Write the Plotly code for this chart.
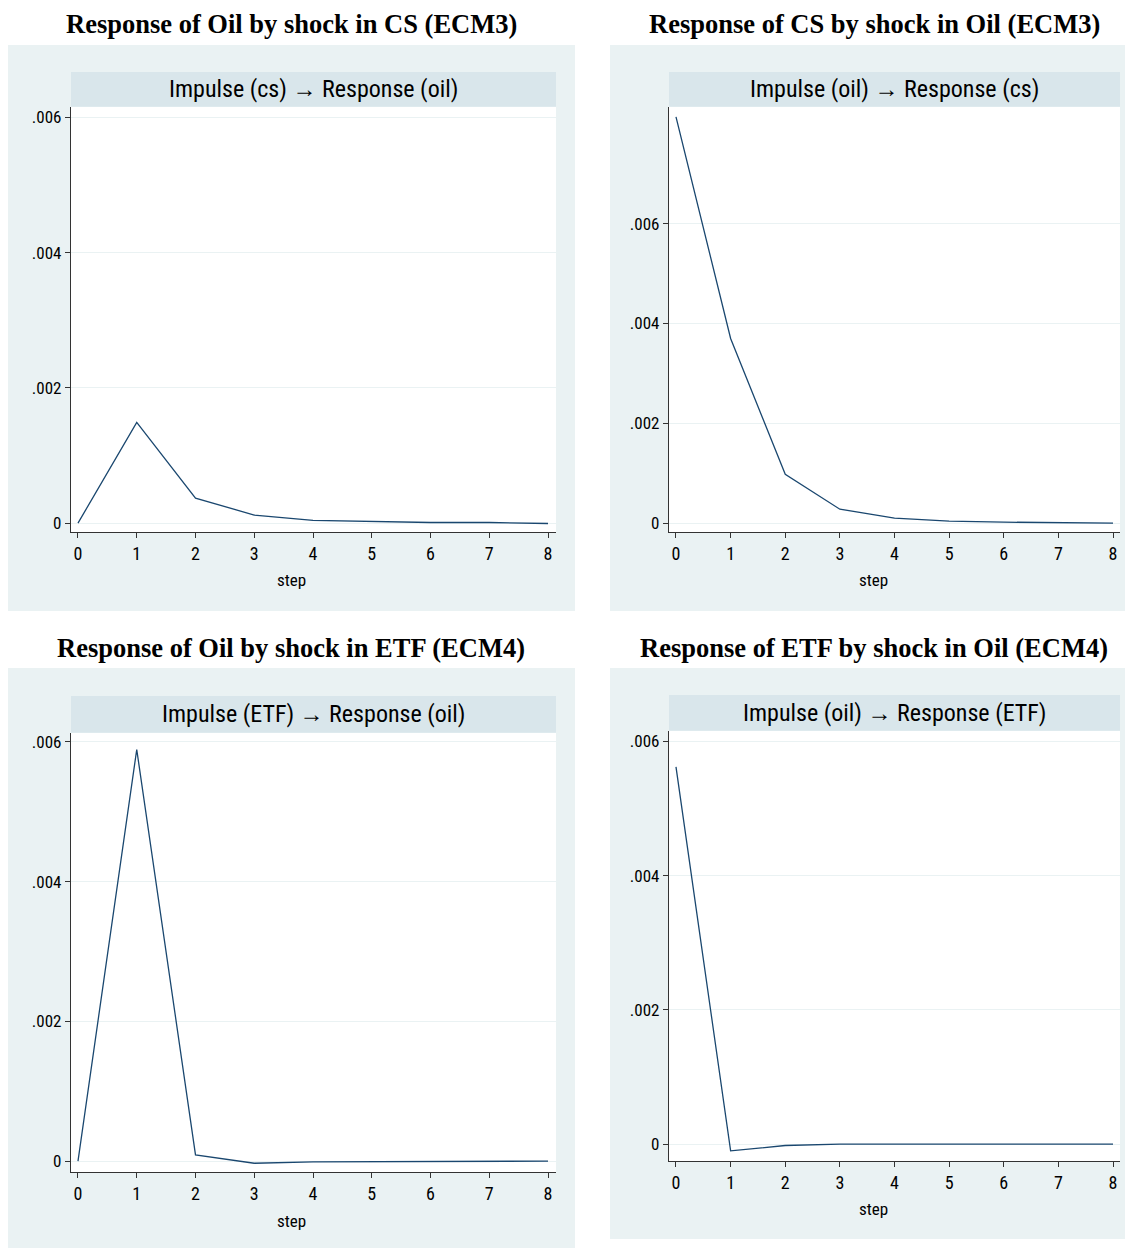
import plotly.graph_objects as go

W, H = 1125, 1249

steps = [0, 1, 2, 3, 4, 5, 6, 7, 8]
oil_by_cs = [0.0, 0.00149, 0.00037, 0.00012, 0.00004, 0.00002, 0.00001, 0.00001, -0.000005]
cs_by_oil = [0.00814, 0.0037, 0.00098, 0.00028, 0.0001, 0.00004, 0.00002, 0.00001, 0.0]
oil_by_etf = [0.0, 0.00589, 0.00009, -0.00003, -0.00001, -0.00001, 0.0, 0.0, 0.0]
etf_by_oil = [0.00562, -0.0001, -0.00002, 0.0, 0.0, 0.0, 0.0, 0.0, 0.0]

titles = ["Response of Oil by shock in CS (ECM3)", "Response of CS by shock in Oil (ECM3)",
          "Response of Oil by shock in ETF (ECM4)", "Response of ETF by shock in Oil (ECM4)"]
strips = ["Impulse (cs) \u2192 Response (oil)", "Impulse (oil) \u2192 Response (cs)",
          "Impulse (ETF) \u2192 Response (oil)", "Impulse (oil) \u2192 Response (ETF)"]
x_title = "step"
ytick_vals = [0, 0.002, 0.004, 0.006]
ytick_text = ["0", ".002", ".004", ".006"]
series = [oil_by_cs, cs_by_oil, oil_by_etf, etf_by_oil]

# layout geometry in pixels
panels = [
    dict(outer=(8, 44, 575, 611), strip=(71, 71, 556, 106), plot=(71, 106, 556, 532),
         xr=(-0.119, 8.136), yr=(-0.000133, 0.006155), title_y=23, title_x=291, xt=(291, 580)),
    dict(outer=(610, 44, 1125, 611), strip=(669, 71, 1120, 106), plot=(669, 106, 1120, 532),
         xr=(-0.128, 8.128), yr=(-0.00018, 0.00834), title_y=23, title_x=874, xt=(873, 580)),
    dict(outer=(8, 668, 575, 1249), strip=(71, 696, 556, 733), plot=(71, 733, 556, 1173),
         xr=(-0.119, 8.136), yr=(-0.000157, 0.006129), title_y=648, title_x=291, xt=(291, 1222)),
    dict(outer=(610, 668, 1125, 1240), strip=(669, 695, 1120, 731), plot=(669, 731, 1120, 1162),
         xr=(-0.128, 8.128), yr=(-0.000253, 0.006156), title_y=648, title_x=874, xt=(873, 1210)),
]

def fx(x):
    return x / W

def fy(y):
    return 1 - y / H

NARROW = "Liberation Sans Narrow, Arial Narrow, Roboto Condensed, Liberation Sans, sans-serif"
BG = "#EAF2F3"
STRIP = "#D9E6EB"
LINE = "#1A476F"

fig = go.Figure()
shapes = []
annotations = []
layout_axes = {}

for i, p in enumerate(panels):
    n = "" if i == 0 else str(i + 1)
    ox0, oy0, ox1, oy1 = p["outer"]
    shapes.append(dict(type="rect", xref="paper", yref="paper", x0=fx(ox0), x1=fx(ox1),
                       y0=fy(oy1), y1=fy(oy0), fillcolor=BG, line_width=0, layer="below"))
    px0, py0, px1, py1 = p["plot"]
    shapes.append(dict(type="rect", xref="paper", yref="paper", x0=fx(px0), x1=fx(px1),
                       y0=fy(py1), y1=fy(py0), fillcolor="white", line_width=0, layer="below"))
    sx0, sy0, sx1, sy1 = p["strip"]
    shapes.append(dict(type="rect", xref="paper", yref="paper", x0=fx(sx0), x1=fx(sx1),
                       y0=fy(sy1), y1=fy(sy0), fillcolor=STRIP, line_width=0, layer="below"))
    annotations.append(dict(text=strips[i], xref="paper", yref="paper", x=fx((sx0 + sx1) / 2),
                            y=fy((sy0 + sy1) / 2), showarrow=False, xanchor="center", yanchor="middle",
                            font=dict(family=NARROW, size=24, color="black")))
    annotations.append(dict(text="<b>" + titles[i] + "</b>", xref="paper", yref="paper",
                            x=fx(p["title_x"]), y=fy(p["title_y"]),
                            showarrow=False, xanchor="center", yanchor="middle",
                            font=dict(family="Liberation Serif, Times New Roman, serif", size=26.5, color="black")))
    annotations.append(dict(text=x_title, xref="paper", yref="paper",
                            x=fx(p["xt"][0]), y=fy(p["xt"][1]),
                            showarrow=False, xanchor="center", yanchor="middle",
                            font=dict(family=NARROW, size=17, color="black")))

    fig.add_trace(go.Scatter(x=steps, y=series[i], mode="lines", line=dict(color=LINE, width=1.3),
                             xaxis="x" + n, yaxis="y" + n, showlegend=False, hoverinfo="x+y"))

    layout_axes["xaxis" + n] = dict(
        domain=[fx(px0), fx(px1)], anchor="y" + n, range=list(p["xr"]),
        tickvals=steps, ticktext=[str(s) for s in steps], ticks="outside", ticklen=5,
        tickcolor="#333333", showline=True, linecolor="#333333", linewidth=1.2,
        showgrid=False, zeroline=False,
        tickfont=dict(family=NARROW, size=18, color="black"),
    )
    layout_axes["yaxis" + n] = dict(
        domain=[fy(py1), fy(py0)], anchor="x" + n, range=list(p["yr"]),
        tickvals=ytick_vals, ticktext=ytick_text, ticks="outside", ticklen=5,
        tickcolor="#333333", showline=True, linecolor="#333333", linewidth=1.2,
        showgrid=True, gridcolor=BG, gridwidth=1, zeroline=False,
        tickfont=dict(family=NARROW, size=17, color="black"),
    )

fig.update_layout(
    width=W, height=H, margin=dict(l=0, r=0, t=0, b=0),
    paper_bgcolor="white", plot_bgcolor="rgba(0,0,0,0)",
    shapes=shapes, annotations=annotations, showlegend=False,
    **layout_axes,
)

fig.write_html("out.html")
